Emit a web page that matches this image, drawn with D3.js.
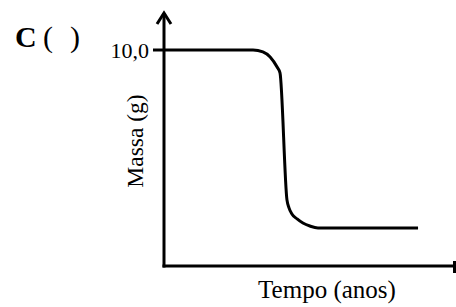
<html>

<head>
    <meta charset="UTF-8">
    <title>Massa x Tempo</title>
    <style>
        body {
            margin: 0;
            background: #fff;
        }

        text {
            font-family: "Liberation Serif", "Times New Roman", serif;
            fill: #000;
        }
    </style>
    <script src="https://d3js.org/d3.v7.min.js"></script>
</head>

<body>
    <script type="text/javascript">
        // curve (time in arbitrary units, mass in g)
        var tempo = [0, 3.07, 3.41, 3.66, 3.90, 4.00, 4.24, 4.31, 4.41, 4.59, 4.79, 5.03, 5.31, 8.76]
        var massa = [10.0, 10.0, 9.91, 9.68, 9.21, 8.94, 3.06, 2.69, 2.41, 2.18, 1.99, 1.85, 1.76, 1.76]
        var yTicks = [10]

        var width = 456, height = 307

        var x = d3.scaleLinear().domain([0, 10]).range([164, 454])
        var y = d3.scaleLinear().domain([0, 10]).range([266, 50])

        var svg = d3.select("body").append("svg")
            .attr("width", width)
            .attr("height", height)

        var points = tempo.map(function (t, i) { return [t, massa[i]] })

        var line = d3.line()
            .x(function (d) { return x(d[0]) })
            .y(function (d) { return y(d[1]) })
            .curve(d3.curveMonotoneX)

        svg.append("path")
            .datum(points)
            .attr("d", line)
            .attr("fill", "none")
            .attr("stroke", "#000")
            .attr("stroke-width", 3)

        // axes
        var ax = svg.append("g")
            .attr("stroke", "#000")
            .attr("stroke-width", 3)
            .attr("fill", "none")

        ax.append("line")
            .attr("x1", x(0)).attr("y1", y(0) + 1.5)
            .attr("x2", x(0)).attr("y2", 13)
        ax.append("path")
            .attr("d", "M" + (x(0) - 7) + ",24L" + x(0) + ",13L" + (x(0) + 7) + ",24")

        ax.append("line")
            .attr("x1", x(0) - 1.5).attr("y1", y(0))
            .attr("x2", 462).attr("y2", y(0))
        ax.append("path")
            .attr("d", "M454.5,261L454.5,273")
            .attr("stroke-width", 3)

        ax.selectAll(".tick")
            .data(yTicks)
            .enter().append("line")
            .attr("x1", x(0) - 11).attr("x2", x(0))
            .attr("y1", function (d) { return y(d) })
            .attr("y2", function (d) { return y(d) })

        svg.selectAll(".ticklabel")
            .data(yTicks)
            .enter().append("text")
            .attr("x", 149)
            .attr("y", function (d) { return y(d) + 8 })
            .attr("text-anchor", "end")
            .attr("font-size", 22)
            .text(function (d) { return d3.format(".1f")(d).replace(".", ",") })

        svg.append("text")
            .attr("transform", "translate(143,141) rotate(-90)")
            .attr("text-anchor", "middle")
            .attr("font-size", 23.5)
            .text("Massa (g)")

        svg.append("text")
            .attr("x", 327)
            .attr("y", 298)
            .attr("text-anchor", "middle")
            .attr("font-size", 25)
            .text("Tempo (anos)")

        var label = svg.append("text")
            .attr("x", 15)
            .attr("y", 47)
            .attr("font-size", 30)
        label.append("tspan").attr("font-weight", "bold").text("C")
        label.append("tspan").attr("x", 43).text("(")
        label.append("tspan").attr("x", 70).text(")")
    </script>
</body>

</html>
